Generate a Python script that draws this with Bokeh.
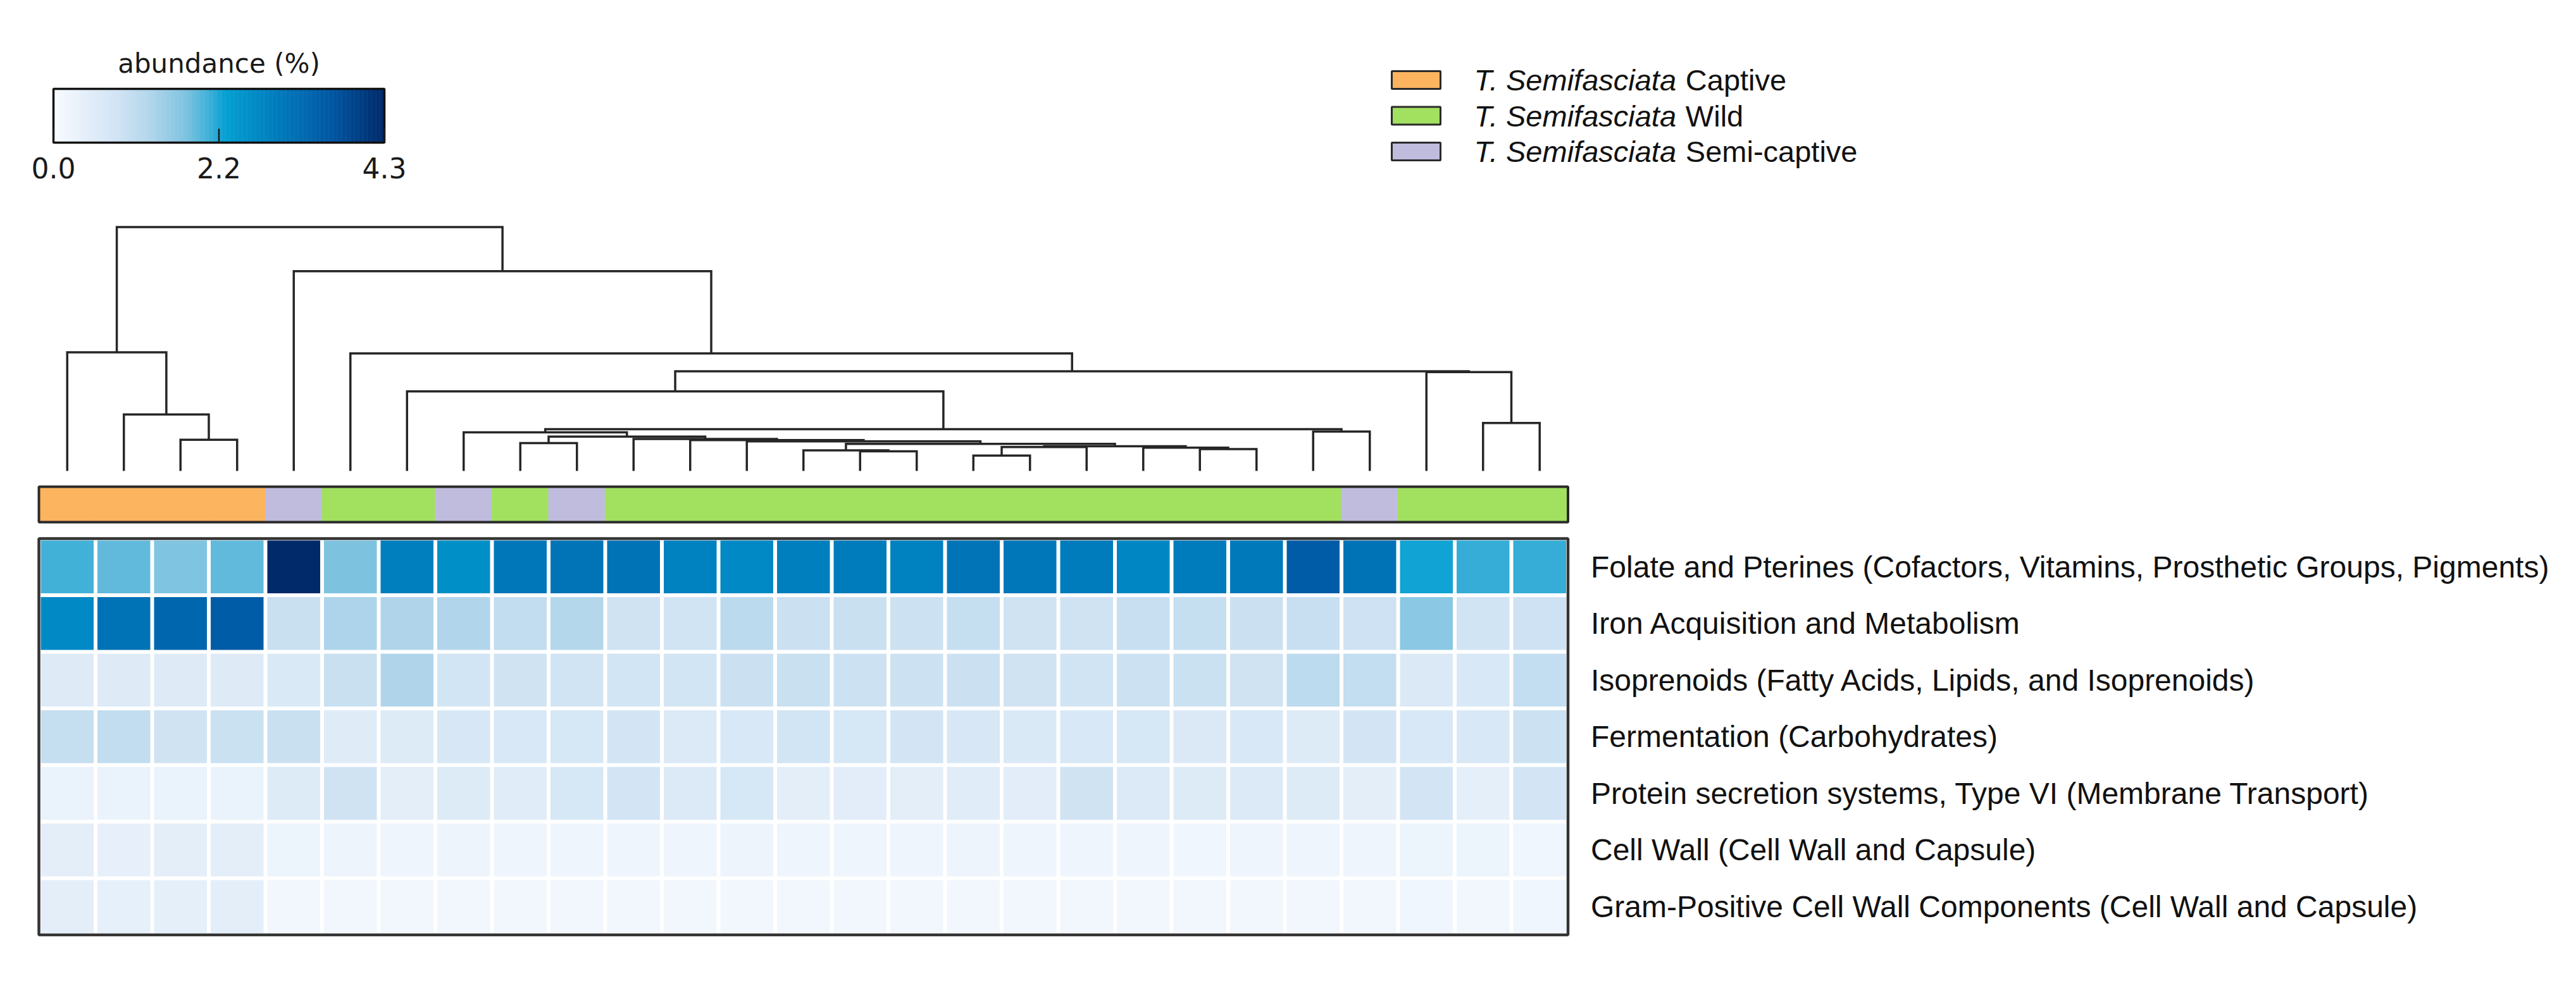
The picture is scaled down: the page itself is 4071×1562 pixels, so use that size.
import numpy as np
from bokeh.plotting import figure
from bokeh.models import Range1d, ColumnDataSource
from bokeh.transform import linear_cmap
from bokeh.core.properties import value
from bokeh.embed import file_html
from bokeh.resources import INLINE

# ---------------- data ----------------
row_names = [
    "Folate and Pterines (Cofactors, Vitamins, Prosthetic Groups, Pigments)",
    "Iron Acquisition and Metabolism",
    "Isoprenoids (Fatty Acids, Lipids, and Isoprenoids)",
    "Fermentation (Carbohydrates)",
    "Protein secretion systems, Type VI (Membrane Transport)",
    "Cell Wall (Cell Wall and Capsule)",
    "Gram-Positive Cell Wall Components (Cell Wall and Capsule)",
]

folate = [2.0, 1.85, 1.7, 1.85, 4.3, 1.72, 2.85, 2.55, 3.0, 3.05, 3.1, 2.8, 2.65, 2.85,
          2.9, 2.8, 3.05, 3.0, 2.9, 2.7, 2.9, 2.95, 3.5, 3.1, 2.2, 2.05, 2.05]
iron = [2.65, 3.1, 3.3, 3.5, 0.95, 1.3, 1.27, 1.25, 1.05, 1.22, 0.85, 0.82, 1.12, 0.92,
        0.95, 0.9, 1.0, 0.87, 0.85, 0.97, 1.0, 0.92, 0.97, 0.88, 1.6, 0.82, 0.88]
isoprenoids = [0.55, 0.55, 0.55, 0.55, 0.65, 0.95, 1.27, 0.8, 0.85, 0.82, 0.8, 0.8, 0.92, 0.95,
               0.9, 0.9, 0.92, 0.85, 0.82, 0.9, 0.93, 0.85, 1.1, 1.02, 0.62, 0.66, 1.02]
fermentation = [1.0, 1.05, 0.85, 0.93, 0.95, 0.52, 0.57, 0.7, 0.68, 0.72, 0.78, 0.58, 0.68, 0.8,
                0.72, 0.78, 0.7, 0.63, 0.68, 0.72, 0.62, 0.66, 0.57, 0.78, 0.68, 0.66, 0.9]
protein_sec = [0.3, 0.27, 0.3, 0.27, 0.57, 0.85, 0.42, 0.57, 0.5, 0.72, 0.78, 0.58, 0.72, 0.42,
               0.46, 0.42, 0.5, 0.46, 0.85, 0.6, 0.57, 0.6, 0.57, 0.42, 0.78, 0.4, 0.78]
cell_wall = [0.42, 0.36, 0.44, 0.42, 0.24, 0.23, 0.2, 0.22, 0.2, 0.19, 0.21, 0.2, 0.22, 0.21,
             0.2, 0.2, 0.22, 0.19, 0.21, 0.2, 0.18, 0.2, 0.21, 0.19, 0.25, 0.24, 0.18]
gram_pos = [0.44, 0.37, 0.4, 0.42, 0.14, 0.14, 0.12, 0.15, 0.14, 0.12, 0.13, 0.14, 0.13, 0.14,
            0.12, 0.13, 0.14, 0.13, 0.12, 0.13, 0.14, 0.13, 0.12, 0.13, 0.16, 0.15, 0.16]
matrix = [folate, iron, isoprenoids, fermentation, protein_sec, cell_wall, gram_pos]

groups = (["Captive"] * 4 + ["Semi-captive"] + ["Wild"] * 2 + ["Semi-captive"] + ["Wild"]
          + ["Semi-captive"] + ["Wild"] * 13 + ["Semi-captive"] + ["Wild"] * 3)

legend_species = "T. Semifasciata"
legend_groups = ["Captive", "Wild", "Semi-captive"]

# dendrogram merges: (name, left, right, height); ints are leaf columns
merges = [
    ("H", 16, 17, 0.093), ("Q", 14, 15, 0.119), ("R", 13, "Q", 0.125),
    ("F", 20, 21, 0.133), ("G", 19, "F", 0.142), ("P", "H", 18, 0.145),
    ("W", "P", "G", 0.150), ("T", "R", "W", 0.165), ("S", 8, 9, 0.170),
    ("N", 12, "T", 0.180), ("M", 11, "N", 0.188), ("O3", 2, 3, 0.190),
    ("L", 10, "M", 0.195), ("J", "S", "L", 0.209), ("I", 7, "J", 0.235),
    ("D", 22, 23, 0.240), ("E", "I", "D", 0.254), ("C2", 25, 26, 0.292),
    ("O2", 1, "O3", 0.344), ("B", 6, "E", 0.485), ("C", 24, "C2", 0.602),
    ("A", "B", "C", 0.607), ("R2", 5, "A", 0.716), ("O1", 0, "O2", 0.723),
    ("R1", 4, "R2", 1.217), ("ROOT", "O1", "R1", 1.486),
]

vmin, vmax = 0.0, 4.3
cb_ticks = [0.0, 2.15, 4.3]
cb_tick_labels = ["0.0", "2.2", "4.3"]

# ---------------- styling / layout ----------------
W, H = 4055, 1546
HX0, CELL, HY0 = 61.0, 89.5, 851.0
BAR_TOP, BAR_BOT = 769.0, 825.0
DENDRO_BASE, DENDRO_SCALE = 744.0, 259.5
CB_X0, CB_X1, CB_Y0, CB_Y1 = 84.0, 607.0, 140.0, 225.0
CB_TITLE_Y, CB_LABEL_Y = 100.0, 265.0
LEG_SQ_X0, LEG_SQ_W, LEG_SQ_H = 2199.0, 77.0, 28.0
LEG_Y0, LEG_DY = 126.0, 56.5
LEG_TX = 2329.0
LABEL_GAP = 36.0
FONT_PX = 47
LABEL_FONT_PX = 48

group_colors = {"Captive": "#fdb45f", "Wild": "#a2e060", "Semi-captive": "#c0bcde"}

anchors = [(0.00, "#f7fbff"), (0.10, "#e3eef9"), (0.20, "#cfe3f3"), (0.30, "#aed4ea"),
           (0.40, "#7dc3e0"), (0.47, "#3fb0d8"), (0.52, "#05a0d2"), (0.62, "#0088c4"),
           (0.72, "#0072b6"), (0.84, "#0057a3"), (1.00, "#002a6a")]


def hex2rgb(h):
    return np.array([int(h[i:i + 2], 16) for i in (1, 3, 5)], dtype=float)


fr = np.array([a[0] for a in anchors])
cols_rgb = np.array([hex2rgb(a[1]) for a in anchors])
palette = []
for t in np.linspace(0, 1, 256):
    rgb = [np.interp(t, fr, cols_rgb[:, k]) for k in range(3)]
    palette.append("#%02x%02x%02x" % tuple(int(round(c)) for c in rgb))

n_rows, n_cols = len(matrix), len(matrix[0])

# ---------------- figure ----------------
y_top = 0.5 + HY0 / CELL
p = figure(width=W, height=H, title=None, output_backend="svg", toolbar_location=None,
           x_range=Range1d(-0.5 - HX0 / CELL, -0.5 + (W - HX0) / CELL),
           y_range=Range1d(y_top - H / CELL, y_top),
           x_axis_location=None, y_axis_location=None, min_border=0,
           background_fill_color="white", border_fill_color="white", outline_line_color=None)
p.grid.visible = False
p.extra_y_ranges = {
    "dendro": Range1d(-(H - DENDRO_BASE) / DENDRO_SCALE, DENDRO_BASE / DENDRO_SCALE),
    "py": Range1d(H, 0),
}
span = (vmax - vmin) / (CB_X1 - CB_X0)
p.extra_x_ranges = {
    "cb": Range1d(vmin - CB_X0 * span, vmin + (W - CB_X0) * span),
    "px": Range1d(0, W),
}

# heatmap cells
xs, ys, vals = [], [], []
for r, row in enumerate(matrix):
    for c, v in enumerate(row):
        xs.append(c)
        ys.append(-r)
        vals.append(v)
src = ColumnDataSource(dict(x=xs, y=ys, val=vals))
gap = 6.0 / CELL
p.rect(x="x", y="y", width=1 - gap, height=1 - gap, source=src,
       fill_color=linear_cmap("val", palette, vmin, vmax), line_color=None)
p.rect(x=[(n_cols - 1) / 2], y=[-(n_rows - 1) / 2], width=n_cols, height=n_rows,
       fill_color=None, line_color="#333333", line_width=4.5)

# row labels
label_x = n_cols - 0.5 + LABEL_GAP / CELL
p.text(x=[label_x] * n_rows, y=[-r for r in range(n_rows)], text=row_names,
       text_font=value("Liberation Sans"), text_font_size=f"{LABEL_FONT_PX}px",
       text_baseline="middle", text_align="left", text_color="#111111")

# group bar
bar_cy = 0.5 + (HY0 - (BAR_TOP + BAR_BOT) / 2) / CELL
bar_h = (BAR_BOT - BAR_TOP) / CELL
gsrc = ColumnDataSource(dict(x=list(range(n_cols)), y=[bar_cy] * n_cols,
                             color=[group_colors[g] for g in groups]))
p.rect(x="x", y="y", width=1, height=bar_h, source=gsrc, fill_color="color",
       line_color="color", line_width=1)
p.rect(x=[(n_cols - 1) / 2], y=[bar_cy], width=n_cols, height=bar_h,
       fill_color=None, line_color="#2a2a2a", line_width=4)

# dendrogram
pos = {}
hgt = {}
for c in range(n_cols):
    pos[c] = float(c)
    hgt[c] = 0.0
mx, my = [], []
for name, a, b, h in merges:
    xa, xb = pos[a], pos[b]
    mx.append([xa, xa, xb, xb])
    my.append([hgt[a], h, h, hgt[b]])
    pos[name] = (xa + xb) / 2
    hgt[name] = h
p.multi_line(xs=mx, ys=my, y_range_name="dendro", line_color="#262626", line_width=3.5,
             line_join="miter")

# colorbar
cb_vals = np.linspace(vmin, vmax, 301)
step = cb_vals[1] - cb_vals[0]
cb_cy = (CB_Y0 + CB_Y1) / 2
p.rect(x=list(cb_vals), y=[cb_cy] * len(cb_vals), width=step * 1.3, height=CB_Y1 - CB_Y0,
       fill_color=linear_cmap("x", palette, vmin, vmax), line_color=None,
       x_range_name="cb", y_range_name="py")
p.rect(x=[(vmin + vmax) / 2], y=[cb_cy], width=vmax - vmin, height=CB_Y1 - CB_Y0,
       fill_color=None, line_color="#111111", line_width=3.5,
       x_range_name="cb", y_range_name="py")
p.segment(x0=cb_ticks, y0=[CB_Y1] * 3, x1=cb_ticks, y1=[CB_Y1 - 22] * 3,
          line_color="#1a1a1a", line_width=2.5, x_range_name="cb", y_range_name="py")
p.text(x=cb_ticks, y=[CB_LABEL_Y] * 3, text=cb_tick_labels,
       text_font=value("DejaVu Sans"), text_font_size="44px", text_align="center",
       text_baseline="middle", text_color="#1a1a1a", x_range_name="cb", y_range_name="py")
p.text(x=[(vmin + vmax) / 2], y=[CB_TITLE_Y], text=["abundance (%)"],
       text_font=value("DejaVu Sans"), text_font_size="42px", text_align="center",
       text_baseline="middle", text_color="#1a1a1a", x_range_name="cb", y_range_name="py")

# legend
arial_w = {"T": 611, ".": 278, " ": 278, "S": 667, "e": 556, "m": 833, "i": 222,
           "f": 278, "a": 556, "s": 500, "c": 500, "t": 278}
ital_w = sum(arial_w[ch] for ch in legend_species) / 1000 * FONT_PX
space_w = arial_w[" "] / 1000 * FONT_PX
leg_y = [LEG_Y0 + i * LEG_DY for i in range(len(legend_groups))]
p.rect(x=[LEG_SQ_X0 + LEG_SQ_W / 2] * 3, y=leg_y, width=LEG_SQ_W, height=LEG_SQ_H,
       fill_color=[group_colors[g] for g in legend_groups], line_color="#2a2a2a",
       line_width=3, x_range_name="px", y_range_name="py")
p.text(x=[LEG_TX] * 3, y=leg_y, text=[legend_species] * 3, text_font=value("Liberation Sans"),
       text_font_style="italic", text_font_size=f"{FONT_PX}px", text_baseline="middle",
       text_align="left", text_color="#111111", x_range_name="px", y_range_name="py")
p.text(x=[LEG_TX + ital_w + space_w * 0.8] * 3, y=leg_y, text=legend_groups,
       text_font=value("Liberation Sans"), text_font_size=f"{FONT_PX}px",
       text_baseline="middle", text_align="left", text_color="#111111",
       x_range_name="px", y_range_name="py")

open("out.html", "w").write(file_html(p, INLINE))
